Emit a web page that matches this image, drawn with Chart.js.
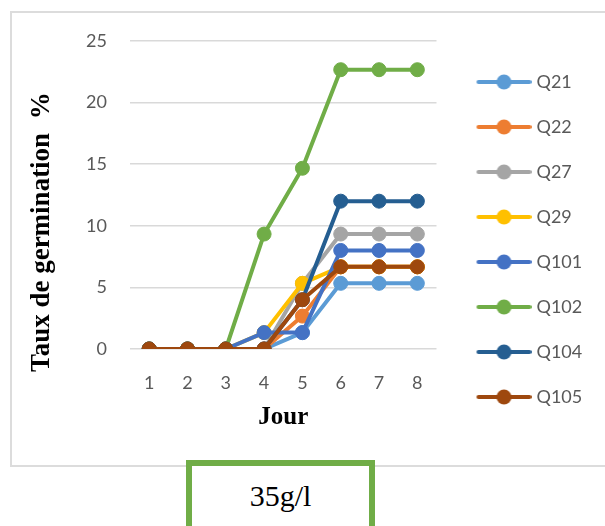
<!DOCTYPE html>
<html>
<head>
<meta charset="utf-8">
<title>Taux de germination 35g/l</title>
<script src="https://cdn.jsdelivr.net/npm/chart.js@4.4.1/dist/chart.umd.min.js"></script>
<style>
  html, body { margin: 0; padding: 0; background: #ffffff; }
  body { width: 605px; height: 526px; position: relative; overflow: hidden; }
  #frame {
    position: absolute; left: 10px; top: 11px;
    width: 700px; height: 452px;
    border: 2px solid #DCDCDC;
  }
  #chart { position: absolute; left: 0; top: 0; }
  #salt {
    position: absolute; left: 186px; top: 460px;
    width: 177px; height: 80px;
    border: 6px solid #70AD47; background: #ffffff;
    font-family: "Liberation Serif", "Times New Roman", serif;
    font-size: 30px; line-height: 60px; text-align: center; color: #000;
  }
</style>
</head>
<body>
<div id="frame"></div>
<canvas id="chart" width="605" height="526"></canvas>
<div id="salt">35g/l</div>
<script>
// Days of observation
const days = ['1', '2', '3', '4', '5', '6', '7', '8'];

// Germination rate (%) per line, day by day
const q21  = [0, 0, 0, 0, 1.33, 5.33, 5.33, 5.33];
const q22  = [0, 0, 0, 0, 2.67, 6.67, 6.67, 6.67];
const q27  = [0, 0, 0, 0, 5.33, 9.33, 9.33, 9.33];
const q29  = [0, 0, 0, 1.33, 5.33, 6.67, 6.67, 6.67];
const q101 = [0, 0, 0, 1.33, 1.33, 8, 8, 8];
const q102 = [0, 0, 0, 9.33, 14.67, 22.67, 22.67, 22.67];
const q104 = [0, 0, 0, 0, 4, 12, 12, 12];
const q105 = [0, 0, 0, 0, 4, 6.67, 6.67, 6.67];

const seriesNames = ['Q21', 'Q22', 'Q27', 'Q29', 'Q101', 'Q102', 'Q104', 'Q105'];
const seriesValues = [q21, q22, q27, q29, q101, q102, q104, q105];
const seriesColors = ['#5B9BD5', '#ED7D31', '#A5A5A5', '#FFC000', '#4472C4', '#70AD47', '#255E91', '#9E480E'];

// Y axis ticks
const yMin = 0, yMax = 25, yStep = 5;

const tickFont = { family: 'Lato', size: 18 };
const tickColor = '#595959';

// Legend symbol: a short line with a round marker in the middle
function legendSymbol(color) {
  const c = document.createElement('canvas');
  c.width = 72; c.height = 16;
  const g = c.getContext('2d');
  g.strokeStyle = color;
  g.lineWidth = 4;
  g.lineCap = 'round';
  g.beginPath();
  g.moveTo(19, 8);
  g.lineTo(70, 8);
  g.stroke();
  g.fillStyle = color;
  g.beginPath();
  g.arc(44.5, 8, 7.5, 0, Math.PI * 2);
  g.fill();
  return c;
}
const symbols = seriesColors.map(legendSymbol);

const datasets = seriesNames.map((name, i) => ({
  label: name,
  data: seriesValues[i],
  borderColor: seriesColors[i],
  backgroundColor: seriesColors[i],
  pointBackgroundColor: seriesColors[i],
  pointBorderColor: seriesColors[i],
  borderWidth: 4,
  pointRadius: 7,
  pointBorderWidth: 1,
  pointHoverRadius: 7,
  tension: 0,
  fill: false,
  borderJoinStyle: 'round',
  // later series are painted over earlier ones
  order: seriesNames.length - i
}));

new Chart(document.getElementById('chart'), {
  type: 'line',
  data: { labels: days, datasets },
  options: {
    responsive: false,
    animation: false,
    devicePixelRatio: 1,
    layout: { padding: { top: 41, bottom: 88, left: 0, right: 23 } },
    plugins: {
      tooltip: { enabled: false },
      legend: {
        position: 'right',
        align: 'center',
        labels: {
          usePointStyle: true,
          pointStyleWidth: 64,
          padding: 27,
          color: tickColor,
          font: tickFont,
          sort: (a, b) => a.datasetIndex - b.datasetIndex,
          generateLabels(chart) {
            const items = Chart.defaults.plugins.legend.labels.generateLabels(chart);
            items.forEach(it => { it.pointStyle = symbols[it.datasetIndex]; });
            return items;
          }
        }
      }
    },
    scales: {
      x: {
        offset: true,
        grid: { display: false, drawTicks: false, offset: true },
        border: { display: false },
        ticks: { color: tickColor, font: tickFont, padding: 23 },
        title: {
          display: true,
          text: 'Jour',
          color: '#000',
          font: { family: 'Liberation Serif', size: 25, weight: 'bold' },
          padding: { top: 0, bottom: 5 }
        },
        afterFit(scale) { scale.height = 89; }
      },
      y: {
        min: yMin,
        max: yMax,
        grid: { color: '#D9D9D9', lineWidth: 1.5, drawTicks: false },
        border: { display: false },
        ticks: { stepSize: yStep, color: tickColor, font: tickFont, padding: 23 },
        title: {
          display: true,
          text: 'Taux de germination  %           ',
          color: '#000',
          font: { family: 'Liberation Serif', size: 27, weight: 'bold' },
          padding: { top: 26, bottom: 0 }
        },
        afterFit(scale) { scale.width = 130; }
      }
    }
  }
});
</script>
</body>
</html>
